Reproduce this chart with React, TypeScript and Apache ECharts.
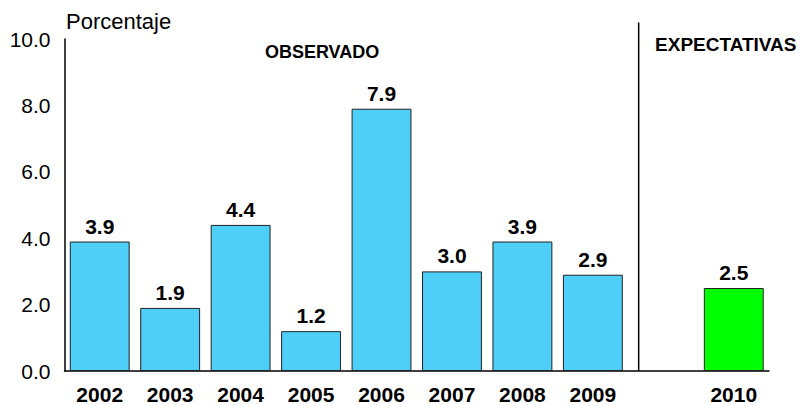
import React, { useEffect, useRef } from "react";
import * as echarts from "echarts";

const categories = ["2002", "2003", "2004", "2005", "2006", "2007", "2008", "2009", "", "2010"];
const values: (number | null)[] = [3.9, 1.9, 4.4, 1.2, 7.9, 3.0, 3.9, 2.9, null, 2.5];
const barColors = ["#4DCFF8", "#4DCFF8", "#4DCFF8", "#4DCFF8", "#4DCFF8", "#4DCFF8", "#4DCFF8", "#4DCFF8", "#4DCFF8", "#00FF00"];
const yTicks = [0, 2, 4, 6, 8, 10];
const FONT = "'Liberation Sans', Arial, sans-serif";

export default function App() {
  const ref = useRef<HTMLDivElement>(null);
  useEffect(() => {
    if (!ref.current) return;
    const chart = echarts.init(ref.current, undefined, { renderer: "svg" });
    const option: any = {
      animation: false,
      backgroundColor: "#ffffff",
      grid: { left: 64.5, right: 32, top: 39, bottom: 33, containLabel: false },
      xAxis: {
        type: "category",
        data: categories,
        axisLine: { show: true, lineStyle: { color: "#000", width: 1.5 } },
        axisTick: { show: false },
        axisLabel: { color: "#000", fontFamily: FONT, fontWeight: "bold", fontSize: 21, margin: 13, interval: 0 },
      },
      yAxis: {
        type: "value",
        min: yTicks[0],
        max: yTicks[yTicks.length - 1],
        interval: 2,
        axisLine: { show: true, lineStyle: { color: "#000", width: 1.5 } },
        axisTick: { show: false },
        splitLine: { show: false },
        axisLabel: { color: "#000", fontFamily: FONT, fontSize: 21, margin: 14, formatter: (v: number) => v.toFixed(1) },
      },
      series: [
        {
          type: "bar",
          barWidth: "85%",
          data: values.map((v, i) => (v === null ? "-" : { value: v, itemStyle: { color: barColors[i] } })),
          itemStyle: { borderColor: "#222", borderWidth: 1 },
          label: {
            show: true,
            position: "top",
            distance: 5,
            color: "#000",
            fontFamily: FONT,
            fontWeight: "bold",
            fontSize: 21,
            formatter: (p: any) => Number(p.value).toFixed(1),
          },
        },
      ],
    };
    chart.setOption(option);

    const x9 = chart.convertToPixel({ xAxisIndex: 0 }, "2009") as number;
    const x10 = chart.convertToPixel({ xAxisIndex: 0 }, "2010") as number;
    const band = (x10 - x9) / 2;
    const sepX = x9 + band * 0.65;
    const yBottom = chart.convertToPixel({ yAxisIndex: 0 }, 0) as number;
    const yTop = chart.convertToPixel({ yAxisIndex: 0 }, 10.5) as number;
    const obsX = chart.convertToPixel({ xAxisIndex: 0 }, "2005") as number;

    chart.setOption({
      graphic: [
        {
          type: "line",
          shape: { x1: sepX, y1: yTop, x2: sepX, y2: yBottom },
          style: { stroke: "#000", lineWidth: 1.5 },
        },
        {
          type: "text",
          left: 66,
          top: 10,
          style: { text: "Porcentaje", fill: "#000", font: `22px ${FONT}` },
        },
        {
          type: "text",
          x: obsX + 11,
          y: 52,
          style: { text: "OBSERVADO", fill: "#000", font: `bold 18px ${FONT}`, align: "center", verticalAlign: "middle" },
        },
        {
          type: "text",
          x: x10 - 8,
          y: 44,
          style: { text: "EXPECTATIVAS", fill: "#000", font: `bold 19px ${FONT}`, align: "center", verticalAlign: "middle" },
        },
      ],
    });

    return () => chart.dispose();
  }, []);
  return <div ref={ref} style={{ width: 801, height: 405, position: "absolute", left: 0, top: 0 }} />;
}
